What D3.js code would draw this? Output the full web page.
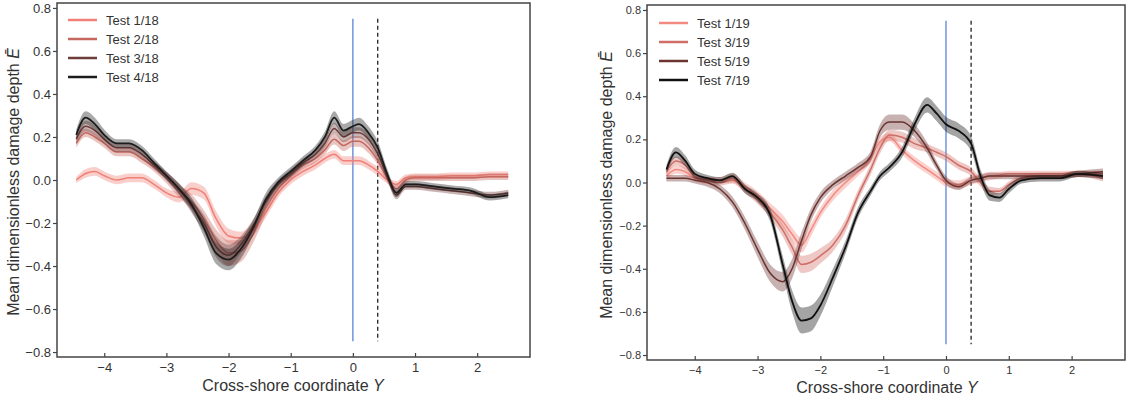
<html>
<head>
<script src="https://d3js.org/d3.v7.min.js"></script>
<style>
  body { margin: 0; background: #fff; font-family: "Liberation Sans", Arial, sans-serif; }
  .frame { fill: none; stroke: #444; stroke-width: 1.5px; }
  .axis .domain { display: none; }
  .axis line { stroke: #444; stroke-width: 1.2px; }
  .axis text { fill: #333; font-family: "Liberation Sans", Arial, sans-serif; }
  .title { fill: #333; font-size: 16px; font-family: "Liberation Sans", Arial, sans-serif; }
</style>
</head>
<body>
<svg id="chart" width="1127" height="398"></svg>
<script>
// ---- left panel data (Test x/18) ----
const xLeft = [-4.45,-4.3,-4.15,-4.0,-3.8,-3.6,-3.4,-3.2,-3.0,-2.8,-2.6,-2.4,-2.2,-2.0,-1.8,-1.6,-1.4,-1.2,-1.0,-0.8,
               -0.6,-0.45,-0.3,-0.15,0.0,0.1,0.25,0.4,0.55,0.7,0.85,1.0,1.3,1.6,1.9,2.2,2.5];
const test1_18 = [0.0,0.03,0.04,0.02,0.0,0.01,0.01,-0.02,-0.06,-0.08,-0.04,-0.06,-0.18,-0.26,-0.27,-0.23,-0.15,-0.06,0.0,0.04,
                  0.07,0.1,0.12,0.09,0.09,0.09,0.07,0.04,0.0,-0.02,0.01,0.015,0.015,0.02,0.02,0.025,0.025];
const test2_18 = [0.17,0.22,0.2,0.17,0.13,0.13,0.1,0.06,0.01,-0.05,-0.1,-0.18,-0.28,-0.34,-0.33,-0.25,-0.13,-0.04,0.02,0.07,
                  0.1,0.14,0.19,0.16,0.18,0.18,0.15,0.09,0.01,-0.04,0.0,0.01,0.01,0.01,0.01,0.015,0.015];
const test3_18 = [0.19,0.25,0.23,0.19,0.15,0.15,0.12,0.07,0.02,-0.04,-0.12,-0.2,-0.31,-0.35,-0.3,-0.21,-0.1,-0.02,0.03,0.08,
                  0.12,0.17,0.24,0.2,0.22,0.22,0.19,0.12,0.02,-0.07,-0.03,-0.03,-0.04,-0.05,-0.06,-0.07,-0.06];
const test4_18 = [0.21,0.29,0.26,0.21,0.17,0.17,0.14,0.08,0.02,-0.04,-0.11,-0.22,-0.34,-0.37,-0.32,-0.22,-0.09,-0.01,0.04,0.09,
                  0.14,0.2,0.29,0.23,0.25,0.26,0.22,0.15,0.03,-0.06,-0.02,-0.02,-0.03,-0.04,-0.05,-0.08,-0.07];
// band half widths
const sd1_18 = [0.015,0.02,0.02,0.02,0.02,0.02,0.02,0.02,0.02,0.025,0.03,0.03,0.035,0.035,0.03,0.03,0.025,0.02,0.02,0.02,
                0.02,0.02,0.02,0.02,0.02,0.02,0.02,0.02,0.015,0.015,0.015,0.015,0.015,0.015,0.015,0.015,0.015];
const sd2_18 = [0.02,0.02,0.02,0.02,0.02,0.02,0.02,0.02,0.025,0.03,0.035,0.04,0.05,0.06,0.05,0.04,0.03,0.02,0.02,0.02,
                0.02,0.02,0.025,0.025,0.025,0.025,0.025,0.02,0.02,0.02,0.015,0.015,0.015,0.015,0.015,0.015,0.015];
const sd3_18 = [0.02,0.025,0.025,0.02,0.02,0.02,0.02,0.02,0.02,0.025,0.03,0.04,0.05,0.05,0.04,0.03,0.025,0.02,0.02,0.02,
                0.02,0.02,0.025,0.025,0.025,0.025,0.025,0.025,0.02,0.02,0.015,0.015,0.015,0.015,0.015,0.015,0.015];
const sd4_18 = [0.025,0.03,0.03,0.025,0.02,0.02,0.02,0.02,0.02,0.025,0.03,0.04,0.05,0.05,0.045,0.035,0.03,0.02,0.02,0.02,
                0.02,0.025,0.03,0.03,0.03,0.03,0.03,0.03,0.025,0.02,0.015,0.015,0.015,0.015,0.015,0.015,0.015];

// ---- right panel data (Test x/19) ----
const xRight = [-4.45,-4.3,-4.15,-4.0,-3.8,-3.6,-3.4,-3.2,-3.0,-2.8,-2.6,-2.45,-2.3,-2.15,-2.0,-1.8,-1.6,-1.4,-1.2,-1.05,
                -0.9,-0.7,-0.5,-0.3,-0.15,0.0,0.2,0.4,0.55,0.7,0.85,1.0,1.2,1.5,1.8,2.1,2.5];
const test1_19 = [0.03,0.06,0.05,0.02,0.01,0.01,0.02,-0.02,-0.06,-0.12,-0.18,-0.24,-0.29,-0.22,-0.14,-0.06,0.0,0.05,0.11,0.19,
                  0.21,0.15,0.1,0.06,0.03,0.0,-0.01,0.01,0.02,0.03,0.035,0.04,0.04,0.04,0.04,0.04,0.04];
const test3_19 = [0.05,0.1,0.08,0.03,0.01,0.0,0.01,-0.03,-0.08,-0.14,-0.22,-0.3,-0.38,-0.37,-0.34,-0.29,-0.2,-0.06,0.06,0.16,
                  0.22,0.21,0.18,0.16,0.14,0.12,0.08,0.05,0.0,-0.04,-0.04,-0.01,0.02,0.03,0.03,0.04,0.02];
const test5_19 = [0.02,0.02,0.02,0.01,0.0,-0.03,-0.09,-0.19,-0.31,-0.42,-0.46,-0.4,-0.27,-0.15,-0.07,-0.01,0.03,0.07,0.12,0.24,
                  0.28,0.28,0.24,0.16,0.08,0.01,-0.02,0.01,0.02,0.03,0.03,0.03,0.03,0.03,0.03,0.04,0.05];
const test7_19 = [0.06,0.14,0.1,0.04,0.02,0.01,0.03,-0.03,-0.07,-0.15,-0.38,-0.55,-0.64,-0.63,-0.57,-0.44,-0.3,-0.14,-0.04,0.03,
                  0.07,0.14,0.27,0.36,0.32,0.27,0.24,0.18,0.03,-0.06,-0.07,-0.03,0.01,0.02,0.02,0.04,0.03];
const sd1_19 = [0.02,0.02,0.02,0.015,0.015,0.015,0.02,0.02,0.02,0.025,0.03,0.03,0.035,0.03,0.025,0.025,0.025,0.02,0.02,0.02,
                0.02,0.02,0.02,0.02,0.02,0.02,0.02,0.02,0.02,0.02,0.015,0.015,0.015,0.015,0.015,0.015,0.015];
const sd3_19 = [0.02,0.02,0.02,0.015,0.015,0.015,0.015,0.02,0.02,0.025,0.03,0.035,0.04,0.04,0.035,0.03,0.03,0.025,0.025,0.025,
                0.025,0.025,0.025,0.02,0.02,0.02,0.02,0.02,0.02,0.02,0.015,0.015,0.015,0.015,0.015,0.015,0.015];
const sd5_19 = [0.015,0.015,0.015,0.015,0.02,0.02,0.025,0.03,0.035,0.04,0.045,0.045,0.04,0.03,0.025,0.02,0.02,0.02,0.025,0.03,
                0.035,0.035,0.03,0.025,0.02,0.02,0.015,0.015,0.015,0.015,0.015,0.015,0.015,0.015,0.015,0.015,0.015];
const sd7_19 = [0.02,0.025,0.025,0.02,0.015,0.015,0.015,0.02,0.02,0.03,0.04,0.05,0.06,0.06,0.05,0.04,0.03,0.025,0.02,0.02,
                0.02,0.025,0.03,0.035,0.035,0.035,0.035,0.035,0.03,0.025,0.02,0.02,0.015,0.015,0.015,0.015,0.015];

const yTicks = [-0.8,-0.6,-0.4,-0.2,0.0,0.2,0.4,0.6,0.8];
const xTicks = [-4,-3,-2,-1,0,1,2];
const shoreline = 0.0;   // blue line
const dashedLine = 0.4;  // dashed black line

const svg = d3.select("#chart");

function drawPanel(cfg) {
  const g = svg.append("g");
  const x = d3.scaleLinear().domain([-4.76, 2.85]).range([cfg.left, cfg.right]);
  const y = d3.scaleLinear().domain([-0.823, 0.823]).range([cfg.bottom, cfg.top]);

  // axes
  g.append("g").attr("class", "axis")
    .attr("transform", `translate(${cfg.left},0)`)
    .call(d3.axisLeft(y).tickValues(yTicks).tickFormat(d3.format(".1f")).tickSize(4).tickPadding(2))
    .selectAll("text").style("font-size", cfg.tickFont + "px");
  g.append("g").attr("class", "axis")
    .attr("transform", `translate(0,${cfg.bottom})`)
    .call(d3.axisBottom(x).tickValues(xTicks).tickSize(-4).tickPadding(6))
    .selectAll("text").style("font-size", cfg.tickFont + "px");

  // reference lines
  g.append("line")
    .attr("x1", x(shoreline)).attr("x2", x(shoreline))
    .attr("y1", y(0.75)).attr("y2", y(-0.75))
    .attr("stroke", "#6f95e0").attr("stroke-width", 1.5);
  g.append("line")
    .attr("x1", x(dashedLine)).attr("x2", x(dashedLine))
    .attr("y1", y(0.75)).attr("y2", y(-0.75))
    .attr("stroke", "#222").attr("stroke-width", 1.3)
    .attr("stroke-dasharray", "4,3");

  const area = d3.area().curve(d3.curveMonotoneX)
    .x(d => x(d.x)).y0(d => y(d.v - d.s)).y1(d => y(d.v + d.s));
  const line = d3.line().curve(d3.curveMonotoneX)
    .x(d => x(d.x)).y(d => y(d.v));

  cfg.series.forEach(s => {
    const pts = cfg.xs.map((xv, i) => ({x: xv, v: s.values[i], s: s.sd[i]}));
    g.append("path").datum(pts)
      .attr("d", area)
      .attr("fill", s.color).attr("fill-opacity", 0.38).attr("stroke", "none");
    g.append("path").datum(pts)
      .attr("d", line)
      .attr("fill", "none").attr("stroke", s.color).attr("stroke-width", s.width);
  });

  // frame
  g.append("rect").attr("class", "frame")
    .attr("x", cfg.left).attr("y", cfg.top)
    .attr("width", cfg.right - cfg.left).attr("height", cfg.bottom - cfg.top);

  // legend
  cfg.series.forEach((s, i) => {
    const ly = cfg.legendY + i * 19;
    g.append("line")
      .attr("x1", cfg.legendX).attr("x2", cfg.legendX + 29)
      .attr("y1", ly).attr("y2", ly)
      .attr("stroke", s.color).attr("stroke-width", 2.5);
    g.append("text")
      .attr("x", cfg.legendX + 38).attr("y", ly + 5)
      .attr("fill", "#333").style("font-size", "13px")
      .text(s.name);
  });

  // titles
  const xt = g.append("text").attr("class", "title")
    .attr("x", cfg.xTitleX).attr("y", cfg.xTitleY)
    .attr("text-anchor", "middle");
  xt.append("tspan").text("Cross-shore coordinate ");
  xt.append("tspan").attr("font-style", "italic").text("Y");

  const yt = g.append("text").attr("class", "title")
    .attr("transform", `translate(${cfg.yTitleX},${cfg.yTitleY}) rotate(-90)`)
    .attr("text-anchor", "middle");
  yt.append("tspan").text("Mean dimensionless damage depth ");
  yt.append("tspan").attr("font-style", "italic").text("Ē");
}

drawPanel({
  left: 57, right: 530, top: 3, bottom: 357, tickFont: 13,
  xs: xLeft,
  legendX: 68, legendY: 20,
  xTitleX: 293, xTitleY: 391, yTitleX: 19, yTitleY: 182,
  series: [
    {name: "Test 1/18", values: test1_18, sd: sd1_18, color: "#f08078", width: 1.5},
    {name: "Test 2/18", values: test2_18, sd: sd2_18, color: "#c4675f", width: 1.5},
    {name: "Test 3/18", values: test3_18, sd: sd3_18, color: "#6e3c3a", width: 1.5},
    {name: "Test 4/18", values: test4_18, sd: sd4_18, color: "#1c1c1c", width: 1.8}
  ]
});

drawPanel({
  left: 647, right: 1125, top: 5, bottom: 360, tickFont: 11,
  xs: xRight,
  legendX: 659, legendY: 23,
  xTitleX: 887, xTitleY: 393, yTitleX: 612, yTitleY: 185,
  series: [
    {name: "Test 1/19", values: test1_19, sd: sd1_19, color: "#f28a80", width: 1.5},
    {name: "Test 3/19", values: test3_19, sd: sd3_19, color: "#cf6e66", width: 1.5},
    {name: "Test 5/19", values: test5_19, sd: sd5_19, color: "#6b3431", width: 1.5},
    {name: "Test 7/19", values: test7_19, sd: sd7_19, color: "#111111", width: 1.8}
  ]
});
</script>
</body>
</html>
